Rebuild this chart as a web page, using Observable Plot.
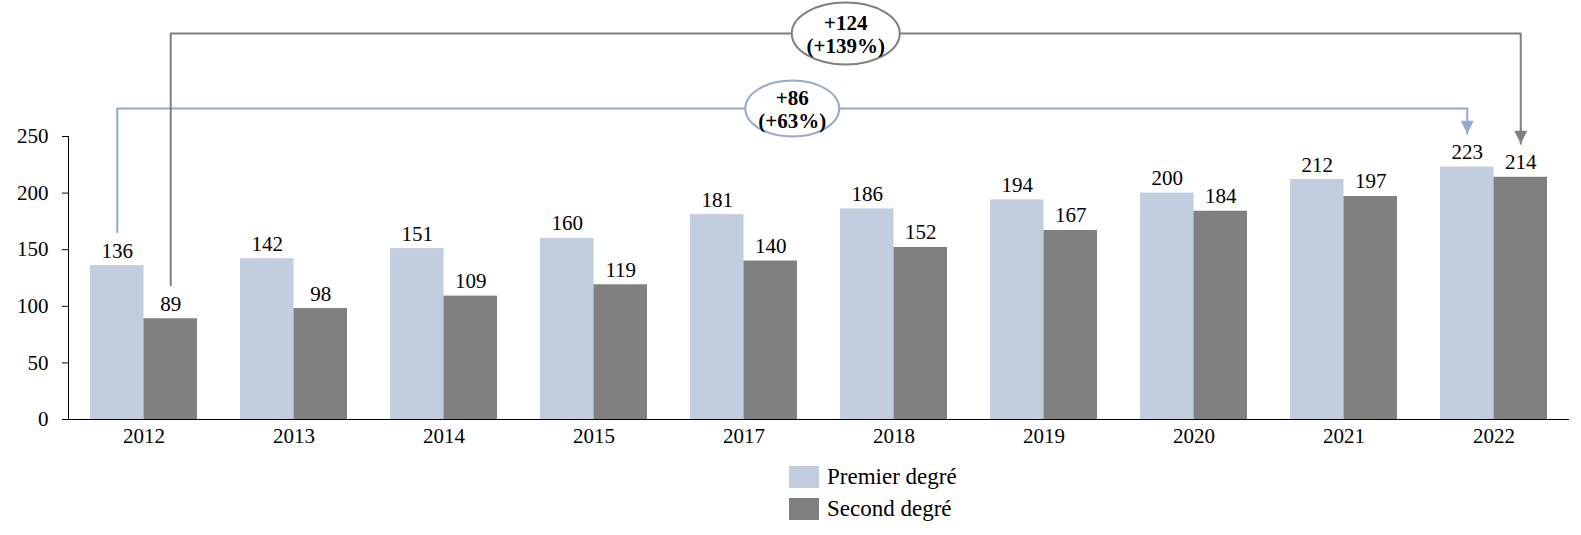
<!DOCTYPE html>
<html>
<head>
<meta charset="utf-8">
<script src="https://cdn.jsdelivr.net/npm/d3@7"></script>
<script src="https://cdn.jsdelivr.net/npm/@observablehq/plot@0.6"></script>
<style>
  body { margin: 0; background: #fff; font-family: "Liberation Serif", "Times New Roman", "DejaVu Serif", serif; }
  #wrap { position: relative; width: 1581px; height: 535px; }
  .legend { position: absolute; left: 789px; top: 466px; font-size: 23px; color: #000; font-family: "Liberation Serif", "Times New Roman", "DejaVu Serif", serif; }
  .item { display: flex; align-items: center; height: 22px; margin-bottom: 10px; }
  .sw { width: 30px; height: 22px; margin-right: 8px; }
  svg text { font-family: "Liberation Serif", "Times New Roman", "DejaVu Serif", serif; }
</style>
</head>
<body>
<div id="wrap"></div>
<script>
// Years shown on the axis
const years = ["2012", "2013", "2014", "2015", "2017", "2018", "2019", "2020", "2021", "2022"];
// Values per series
const premier = [136, 142, 151, 160, 181, 186, 194, 200, 212, 223];
const second = [89, 98, 109, 119, 140, 152, 167, 184, 197, 214];
const seriesNames = ["Premier degré", "Second degré"];
const barColors = ["#C3CDE0", "#808080"];
const arrowColors = ["#94AACE", "#7F7F7F"];
// Change labels, 2012 → 2022
const changeLabels = ["+86\n(+63%)", "+124\n(+139%)"];
const yTicks = [0, 50, 100, 150, 200, 250];

const rows = years.map((year, i) => ({year, premier: premier[i], second: second[i]}));

const serif = "'Liberation Serif', 'Times New Roman', 'DejaVu Serif', serif";
const width = 1581, height = 449;
const marginLeft = 68, marginRight = 13, marginTop = 136, marginBottom = 30;
const paddingInner = 0.287;
const step = (width - marginLeft - marginRight) / years.length;
const bw = step * (1 - paddingInner);
const half = bw / 2, quarter = bw / 4;

// Connector paths from the first to the last year, lifted above the value labels
const lift = 29.5;
const first = 0, last = years.length - 1;
const levels = [274.7, 341];
const seriesVals = [premier, second];
const paths = seriesVals.map((vals, s) => [
  {year: years[first], v: vals[first] + lift},
  {year: years[first], v: levels[s]},
  {year: years[last], v: levels[s]},
  {year: years[last], v: vals[last] + lift}
]);

// Downward filled arrowhead with its tip at the origin
const arrowHead = {draw(ctx) { ctx.moveTo(0, 0); ctx.lineTo(-6.5, -13); ctx.lineTo(6.5, -13); ctx.closePath(); }};
// Ellipse drawn with Bézier curves
function ellipse(rx, ry) {
  const k = 0.5523;
  return {draw(ctx) {
    ctx.moveTo(rx, 0);
    ctx.bezierCurveTo(rx, ry * k, rx * k, ry, 0, ry);
    ctx.bezierCurveTo(-rx * k, ry, -rx, ry * k, -rx, 0);
    ctx.bezierCurveTo(-rx, -ry * k, -rx * k, -ry, 0, -ry);
    ctx.bezierCurveTo(rx * k, -ry, rx, -ry * k, rx, 0);
    ctx.closePath();
  }};
}
const ellipses = [ellipse(47, 28), ellipse(54, 31)];
const offsets = [-quarter, quarter];
// Badges sit midway between the two connector ends (between 2017 and 2018 centers)
const midYear = years[4];
const midShift = step / 2;

const marks = [];
marks.push(Plot.barY(rows, {x: "year", y: "premier", fill: barColors[0], insetRight: half}));
marks.push(Plot.barY(rows, {x: "year", y: "second", fill: barColors[1], insetLeft: half}));
marks.push(Plot.text(rows, {x: "year", y: "premier", text: "premier", dx: -quarter, dy: -8, lineAnchor: "bottom", fontFamily: serif}));
marks.push(Plot.text(rows, {x: "year", y: "second", text: "second", dx: quarter, dy: -8, lineAnchor: "bottom", fontFamily: serif}));
paths.forEach((p, s) => {
  marks.push(Plot.line(p, {x: "year", y: "v", dx: offsets[s], stroke: arrowColors[s], strokeWidth: 2, curve: "linear"}));
  marks.push(Plot.dot([p[3]], {x: "year", y: "v", dx: offsets[s], symbol: arrowHead, r: 1, fill: arrowColors[s], stroke: "none"}));
  marks.push(Plot.dot([{year: midYear, v: levels[s]}], {x: "year", y: "v", dx: midShift + offsets[s], symbol: ellipses[s], r: 1, fill: "white", stroke: arrowColors[s], strokeWidth: 2}));
  marks.push(Plot.text([{year: midYear, v: levels[s], t: changeLabels[s]}], {x: "year", y: "v", text: "t", dx: midShift + offsets[s], dy: 1, fontWeight: "bold", lineHeight: 1.1, fontSize: 21, fontFamily: serif}));
});
marks.push(Plot.axisY({ticks: yTicks, tickSize: 6, tickPadding: 14, fontFamily: serif}));
marks.push(Plot.axisX({tickSize: 0, tickPadding: 9, fontFamily: serif}));
marks.push(Plot.frame({anchor: "left"}));
marks.push(Plot.frame({anchor: "bottom"}));

const chart = Plot.plot({
  width, height, marginLeft, marginRight, marginTop, marginBottom,
  style: {fontFamily: serif, fontSize: "21px", color: "#000", background: "white", overflow: "visible"},
  x: {type: "band", domain: years, paddingInner, paddingOuter: paddingInner / 2, label: null},
  y: {domain: [0, 250], label: null},
  marks
});

const wrap = document.getElementById("wrap");
wrap.appendChild(chart);
const legend = document.createElement("div");
legend.className = "legend";
seriesNames.forEach((name, i) => {
  const item = document.createElement("div");
  item.className = "item";
  const sw = document.createElement("span");
  sw.className = "sw";
  sw.style.background = barColors[i];
  const label = document.createElement("span");
  label.textContent = name;
  item.appendChild(sw);
  item.appendChild(label);
  legend.appendChild(item);
});
wrap.appendChild(legend);
</script>
</body>
</html>
